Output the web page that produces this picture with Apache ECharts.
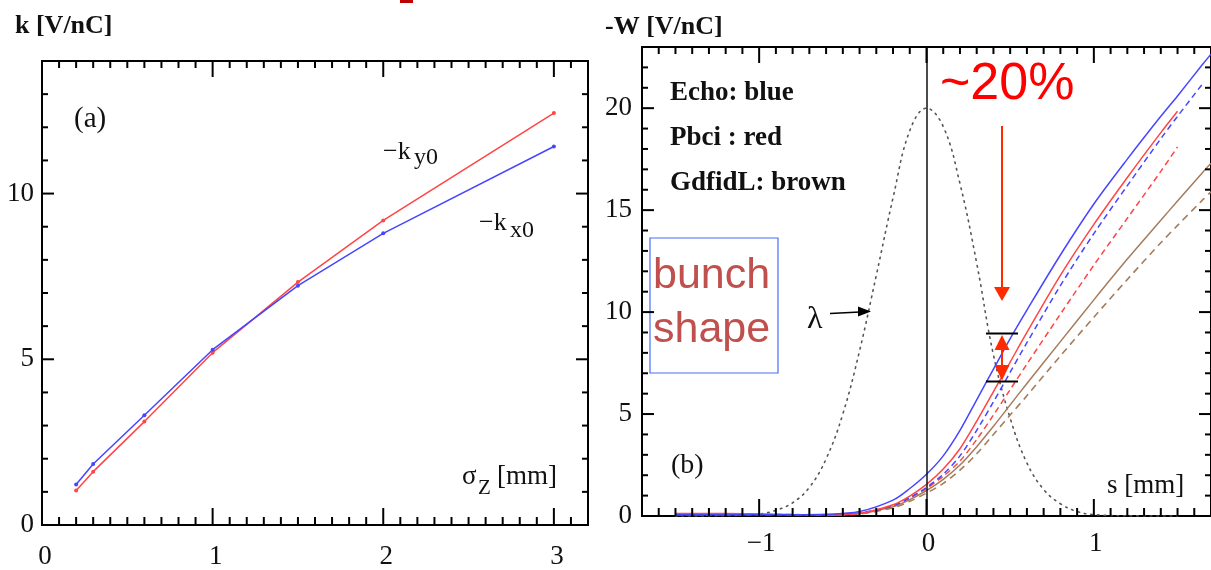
<!DOCTYPE html>
<html>
<head>
<meta charset="utf-8">
<script src="https://cdn.jsdelivr.net/npm/echarts@6/dist/echarts.min.js"></script>
<style>
  html, body { margin: 0; background: #fff; }
  #chart { width: 1211px; height: 570px; }
</style>
</head>
<body>
<div id="chart"></div>
<script>
  // panel (a): kick factor vs bunch length
  const sigmaZ = [0.2, 0.3, 0.6, 1.0, 1.5, 2.0, 3.0];
  const kx0 = [1.22, 1.84, 3.31, 5.29, 7.22, 8.8, 11.42];
  const ky0 = [1.04, 1.61, 3.12, 5.2, 7.33, 9.19, 12.43];
  const kTicksX = [0, 1, 2, 3];
  const kTicksY = [0, 5, 10];

  // panel (b): wake potential -W(s)
  const sPts = [-1.5, -1.2, -1.0, -0.8, -0.6, -0.4, -0.2, -0.1, 0, 0.1, 0.2, 0.3, 0.4, 0.5, 0.6, 0.8, 1.0, 1.2, 1.4, 1.5, 1.65, 1.7];
  const echoSolid = [0.06, 0.06, 0.06, 0.06, 0.08, 0.22, 0.78, 1.35, 2.05, 2.95, 4.2, 5.7, 7.2, 8.7, 10.1, 12.8, 15.3, 17.5, 19.6, 20.6, 22.15, 22.65];
  const echoDash = [0.05, 0.05, 0.05, 0.05, 0.06, 0.15, 0.5, 0.9, 1.4, 2.05, 2.95, 4.2, 5.6, 7.05, 8.5, 11.3, 13.85, 16.2, 18.5, 19.6, 21.2, null];
  const pbciSolid = [0.12, 0.12, 0.1, 0.07, 0.06, 0.13, 0.55, 0.98, 1.55, 2.3, 3.3, 4.65, 6.1, 7.55, 9.0, 11.8, 14.3, 16.6, 18.8, 19.85, null, null];
  const pbciDash = [0.1, 0.1, 0.09, 0.07, 0.06, 0.12, 0.5, 0.88, 1.35, 1.95, 2.7, 3.75, 4.95, 6.2, 7.45, 9.9, 12.3, 14.6, 16.9, 18.1, null, null];
  const gdfSolid = [null, null, null, null, 0.04, 0.12, 0.45, 0.8, 1.25, 1.8, 2.5, 3.4, 4.4, 5.45, 6.5, 8.55, 10.6, 12.6, 14.5, 15.45, 16.85, 17.3];
  const gdfDash = [null, null, null, null, 0.03, 0.1, 0.4, 0.72, 1.12, 1.6, 2.25, 3.05, 4.0, 4.95, 5.9, 7.85, 9.75, 11.6, 13.4, 14.25, 15.5, 15.9];
  // bunch shape lambda (dotted)
  const lamS = [-1.5, -1.2, -1.0, -0.9, -0.8, -0.7, -0.6, -0.5, -0.4, -0.3, -0.2, -0.1, 0, 0.1, 0.2, 0.3, 0.4, 0.5, 0.6, 0.7, 0.8, 0.9, 1.0, 1.2, 1.5];
  const lamY = [0, 0.02, 0.1, 0.28, 0.65, 1.4, 2.8, 5.0, 8.1, 11.8, 15.6, 18.9, 20, 19.1, 16.3, 12.4, 7.9, 4.8, 2.6, 1.3, 0.6, 0.22, 0.07, 0.01, 0];
  const wTicksX = [-1, 0, 1];
  const wTicksY = [0, 5, 10, 15, 20];

  const serif = '"Liberation Serif", "DejaVu Serif", serif';
  const sans = '"Liberation Sans", Arial, sans-serif';
  const ink = '#000';
  const blue = '#4646ff', red = '#ff4545', brown = '#a57c5c';

  const zip = (xs, ys) => xs.map((x, i) => [x, ys[i]]).filter(p => p[1] !== null);

  const lbl = (vals, margin, pad) => ({
    show: true, customValues: vals, margin: margin, padding: pad,
    fontFamily: serif, fontSize: 27, color: '#111',
    formatter: v => String(v).replace('-', '\u2212')
  });
  const axis = (grid, min, max, label) => ({
    type: 'value', gridIndex: grid, min: min, max: max,
    axisLine: {show: false}, axisTick: {show: false}, splitLine: {show: false},
    axisLabel: label
  });
  const txt = (text, x, y, font, color) => ({
    type: 'text', x: x, y: y, z: 100,
    style: {text: text, font: font, fill: color || '#111', verticalAlign: 'middle'}
  });

  const annotations = [
    {type: 'rect', z: 100, shape: {x: 400, y: 0, width: 13, height: 3}, style: {fill: '#c00000'}},
    txt('k [V/nC]', 15, 26, 'bold 26px ' + serif),
    txt('(a)', 74, 119, '29px ' + serif),
    txt('\u2212k', 383, 152, '26px ' + serif),
    txt('y0', 414, 158, '24px ' + serif),
    txt('\u2212k', 479, 223, '26px ' + serif),
    txt('x0', 510, 231, '24px ' + serif),
    txt('\u03c3', 462, 477, '27px ' + serif),
    txt('Z', 478, 488, '21px ' + serif),
    txt('[mm]', 497, 477, '27px ' + serif),
    txt('-W [V/nC]', 605, 27, 'bold 26px ' + serif),
    txt('Echo: blue', 670, 93, 'bold 27px ' + serif),
    txt('Pbci : red', 670, 138, 'bold 27px ' + serif),
    txt('GdfidL: brown', 670, 183, 'bold 27px ' + serif),
    txt('(b)', 671, 466, '28px ' + serif),
    txt('s [mm]', 1107, 486, '27px ' + serif),
    txt('\u03bb', 807, 320, '32px ' + serif),
    {type: 'line', z: 100, shape: {x1: 830, y1: 313.5, x2: 860, y2: 312}, style: {stroke: ink, lineWidth: 1.5}},
    {type: 'polygon', z: 100, shape: {points: [[871, 311.5], [858, 306.5], [858, 316.5]]}, style: {fill: ink}},
    {type: 'rect', z: 100, shape: {x: 650, y: 238, width: 128, height: 135}, style: {fill: 'none', stroke: '#4a6ef5', lineWidth: 1.2}},
    txt('bunch', 653, 276, '43px ' + sans, '#c0504d'),
    txt('shape', 653, 330, '43px ' + sans, '#c0504d'),
    txt('~20%', 940, 85, '52px ' + sans, '#ff0000'),
    {type: 'line', z: 100, shape: {x1: 1002, y1: 126, x2: 1002, y2: 288}, style: {stroke: '#ff2a00', lineWidth: 2}},
    {type: 'polygon', z: 100, shape: {points: [[994, 287], [1010, 287], [1002, 301]]}, style: {fill: '#ff2a00'}},
    {type: 'line', z: 100, shape: {x1: 986, y1: 333.5, x2: 1018, y2: 333.5}, style: {stroke: ink, lineWidth: 2}},
    {type: 'line', z: 100, shape: {x1: 986, y1: 381.5, x2: 1018, y2: 381.5}, style: {stroke: ink, lineWidth: 2}},
    {type: 'line', z: 100, shape: {x1: 1002, y1: 348, x2: 1002, y2: 367}, style: {stroke: '#ff2a00', lineWidth: 2}},
    {type: 'polygon', z: 100, shape: {points: [[1002, 335], [994.5, 350], [1009.5, 350]]}, style: {fill: '#ff2a00'}},
    {type: 'polygon', z: 100, shape: {points: [[1002, 380.5], [994.5, 365], [1009.5, 365]]}, style: {fill: '#ff2a00'}}
  ];

  const chart = echarts.init(document.getElementById('chart'), null, {renderer: 'canvas'});

  const option = {
    animation: false,
    grid: [
      {left: 42, top: 61, width: 546, height: 465, show: true, borderColor: ink, borderWidth: 2},
      {left: 642, top: 47, width: 570, height: 469, show: true, borderColor: ink, borderWidth: 2}
    ],
    xAxis: [
      axis(0, 0, 3.2, lbl(kTicksX, 18, [0, 0, 0, 6])),
      axis(1, -1.7, 1.7, lbl(wTicksX, 14, [0, 0, 0, 4]))
    ],
    yAxis: [
      axis(0, 0, 14, lbl(kTicksY, 8, [0, 0, 4, 0])),
      axis(1, 0, 23, lbl(wTicksY, 10, [0, 0, 8, 0]))
    ],
    series: [
      {
        name: '-ky0', type: 'line', xAxisIndex: 0, yAxisIndex: 0,
        data: zip(sigmaZ, ky0), symbol: 'circle', symbolSize: 4,
        lineStyle: {color: red, width: 1.5}, itemStyle: {color: red}
      },
      {
        name: '-kx0', type: 'line', xAxisIndex: 0, yAxisIndex: 0,
        data: zip(sigmaZ, kx0), symbol: 'circle', symbolSize: 4,
        lineStyle: {color: blue, width: 1.5}, itemStyle: {color: blue}
      },
      {
        name: 'lambda', type: 'line', xAxisIndex: 1, yAxisIndex: 1,
        data: zip(lamS, lamY), smooth: 0.4, showSymbol: false,
        lineStyle: {color: '#555', width: 1.6, type: [1.6, 5], cap: 'round'},
        markLine: {
          silent: true, symbol: 'none', label: {show: false},
          lineStyle: {color: '#111', width: 1.5, type: 'solid'},
          data: [{xAxis: 0}]
        }
      },
      {
        name: 'GdfidL dashed', type: 'line', xAxisIndex: 1, yAxisIndex: 1,
        data: zip(sPts, gdfDash), smooth: 0.3, showSymbol: false,
        lineStyle: {color: brown, width: 1.6, type: [7, 5]}
      },
      {
        name: 'GdfidL', type: 'line', xAxisIndex: 1, yAxisIndex: 1,
        data: zip(sPts, gdfSolid), smooth: 0.3, showSymbol: false,
        lineStyle: {color: brown, width: 1.5}
      },
      {
        name: 'Pbci dashed', type: 'line', xAxisIndex: 1, yAxisIndex: 1,
        data: zip(sPts, pbciDash), smooth: 0.3, showSymbol: false,
        lineStyle: {color: red, width: 1.5, type: [6, 4]}
      },
      {
        name: 'Echo dashed', type: 'line', xAxisIndex: 1, yAxisIndex: 1,
        data: zip(sPts, echoDash), smooth: 0.3, showSymbol: false,
        lineStyle: {color: blue, width: 1.5, type: [6, 4]}
      },
      {
        name: 'Pbci', type: 'line', xAxisIndex: 1, yAxisIndex: 1,
        data: zip(sPts, pbciSolid), smooth: 0.3, showSymbol: false,
        lineStyle: {color: red, width: 1.5}
      },
      {
        name: 'Echo', type: 'line', xAxisIndex: 1, yAxisIndex: 1,
        data: zip(sPts, echoSolid), smooth: 0.3, showSymbol: false,
        lineStyle: {color: blue, width: 1.5}
      }
    ]
  };

  chart.setOption(option);

  // inward ticks on all four sides of each plot box, placed through the axes' own scales
  function boxTicks(gi, xr, yr, xStep, xMaj, yStep, yMaj) {
    const at = (x, y) => chart.convertToPixel({gridIndex: gi}, [x, y]);
    const lo = at(xr[0], yr[0]), hi = at(xr[1], yr[1]);
    const out = [];
    const seg = (x1, y1, x2, y2) => out.push({
      type: 'line', z: 100, shape: {x1: x1, y1: y1, x2: x2, y2: y2},
      style: {stroke: ink, lineWidth: 2}
    });
    for (let i = 0; xr[0] + i * xStep <= xr[1] + 1e-9; i++) {
      const v = +(xr[0] + i * xStep).toFixed(4);
      const x = at(v, yr[0])[0];
      const big = xMaj.indexOf(v) >= 0;
      seg(x, lo[1], x, lo[1] - (big ? 17 : 8));
      seg(x, hi[1], x, hi[1] + (big ? 16 : 7));
    }
    for (let i = 0; yr[0] + i * yStep <= yr[1] + 1e-9; i++) {
      const v = yr[0] + i * yStep;
      const y = at(xr[0], v)[1];
      const big = yMaj.indexOf(v) >= 0;
      seg(lo[0], y, lo[0] + (big ? 12 : 6), y);
      seg(hi[0], y, hi[0] - (big ? 12 : 6), y);
    }
    return out;
  }

  const ticks = boxTicks(0, [0, 3.2], [0, 14], 0.1, kTicksX, 1, kTicksY)
    .concat(boxTicks(1, [-1.7, 1.7], [0, 23], 0.1, wTicksX, 1, wTicksY));
  chart.setOption({graphic: {elements: annotations.concat(ticks)}});

  window.addEventListener('resize', chart.resize);
</script>
</body>
</html>
